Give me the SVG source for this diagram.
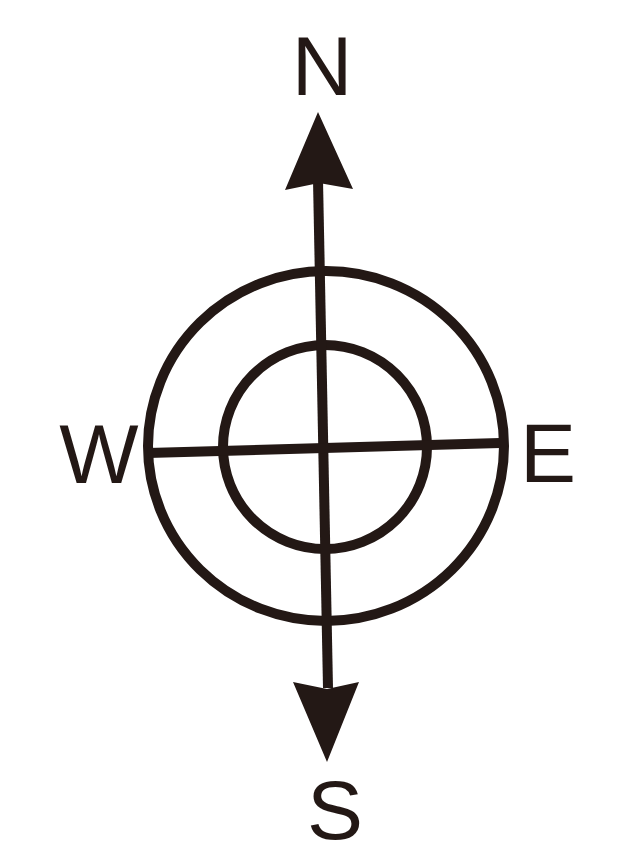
<svg xmlns="http://www.w3.org/2000/svg" width="633" height="841" viewBox="0 0 633 841">
<style>
.ln{stroke:#231815;stroke-width:10;fill:none}
.ah{fill:#231815}
.lb{font-family:"Liberation Sans",Arial,sans-serif;font-size:84px;fill:#231815;text-anchor:middle}
</style>
<rect width="633" height="841" fill="#ffffff"/>
<g id="rings">
<ellipse class="ln" cx="326" cy="446" rx="178" ry="175"/>
<circle class="ln" cx="325" cy="447" r="102"/>
</g>
<g id="axes">
<line class="ln" x1="318" y1="180" x2="328" y2="688"/>
<line class="ln" x1="148" y1="453" x2="500" y2="443"/>
<polygon class="ah" points="318,112 353,189 319,183 285,190"/>
<polygon class="ah" points="327,762 293,682 327,689 359,682"/>
</g>
<g id="labels">
<text class="lb" x="322" y="95">N</text>
<text class="lb" x="335" y="839">S</text>
<text class="lb" x="99" y="483">W</text>
<text class="lb" x="548" y="482">E</text>
</g>
</svg>
